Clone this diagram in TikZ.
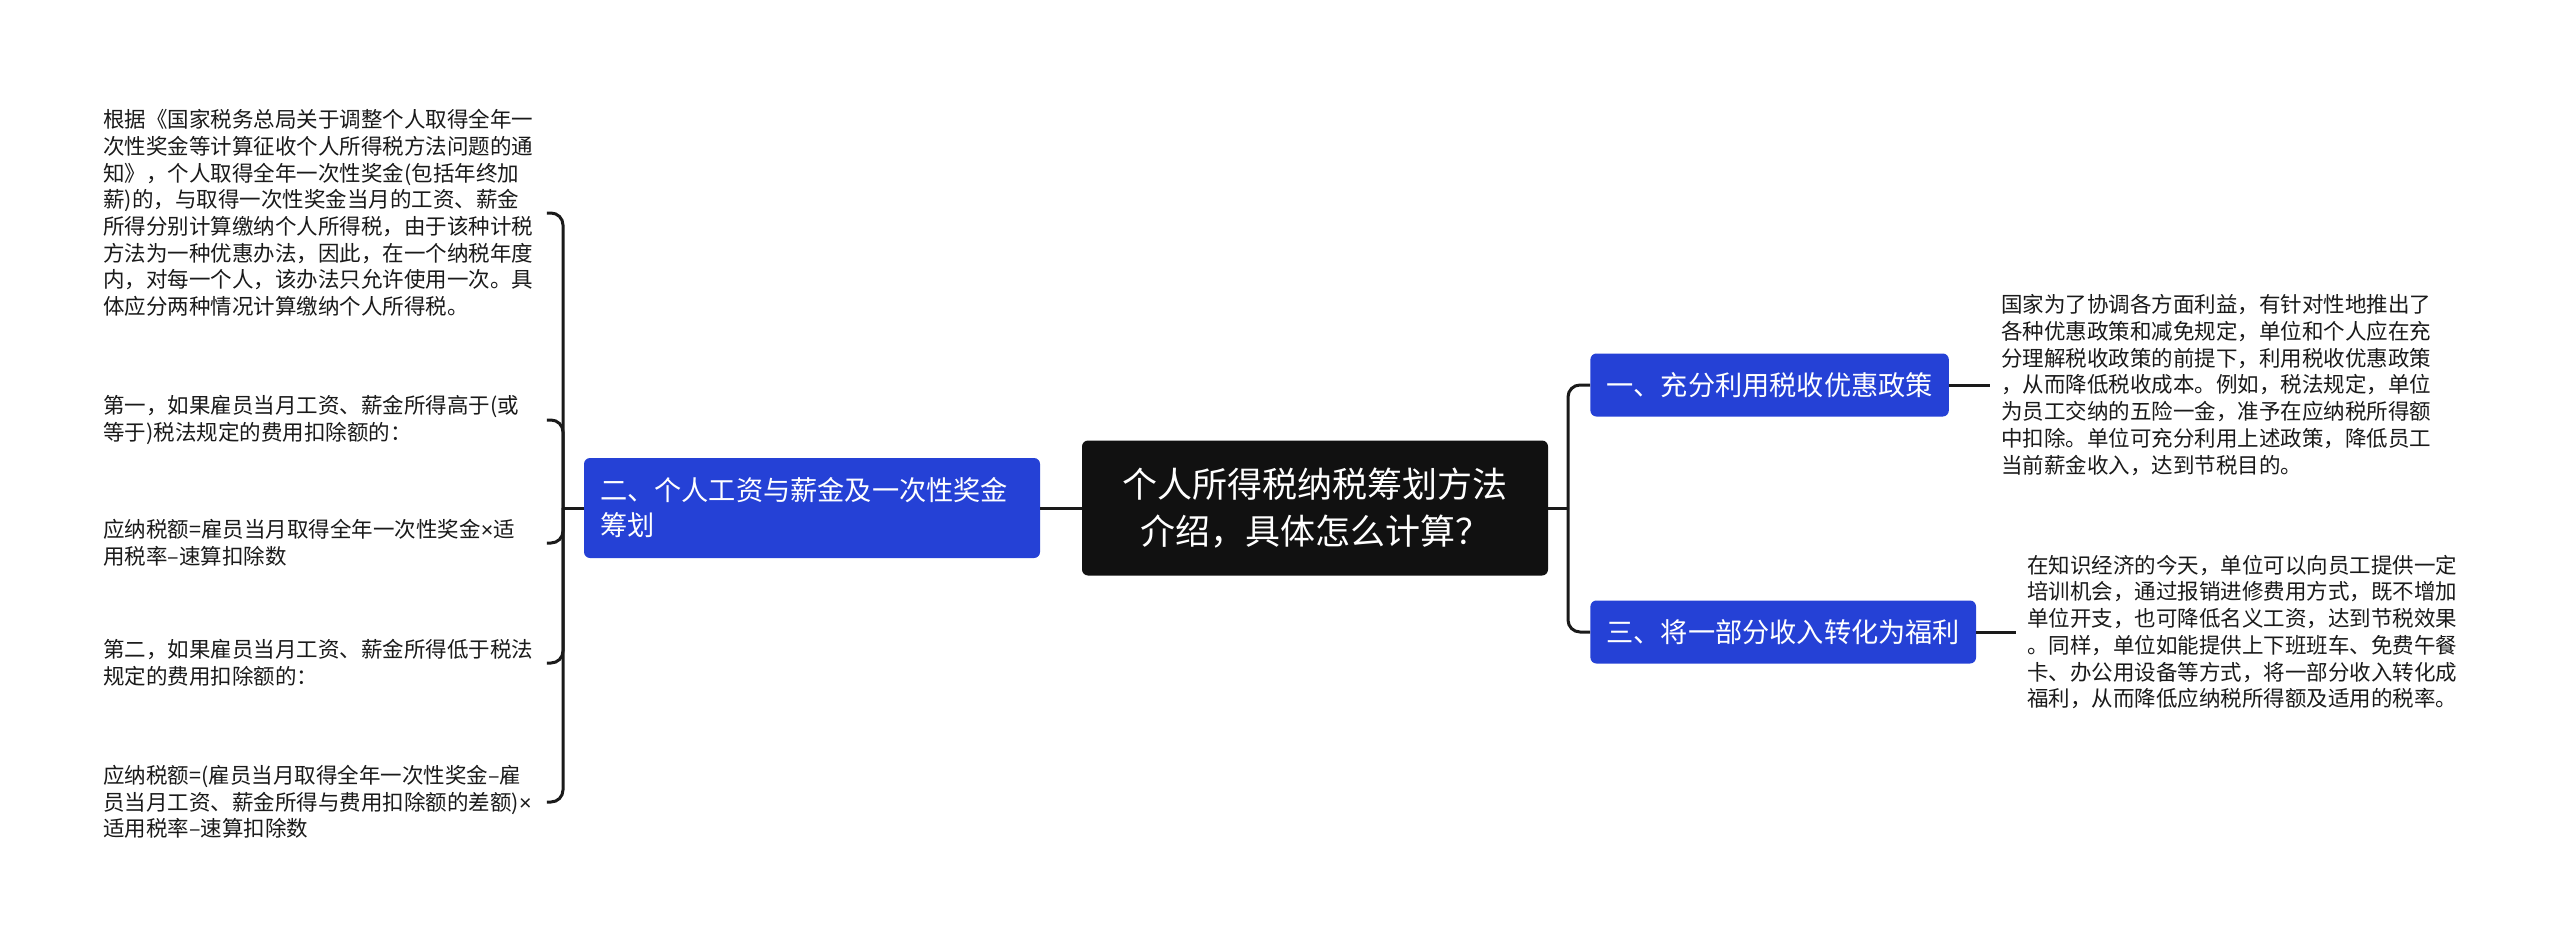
\documentclass[tikz,border=0pt]{standalone}
\usepackage{fontspec}
\setmainfont{Noto Sans CJK SC}
\newfontfamily\latinfont{Liberation Sans}
\newcommand\tms{{\latinfont ×}}
\definecolor{topicblue}{HTML}{2541D6}
\definecolor{rootblack}{HTML}{111111}
\definecolor{linegray}{HTML}{1A1A1A}

\begin{document}
\begin{tikzpicture}[x=.5pt,y=-.5pt,
    conn/.style={draw=linegray,line width=1.5pt,rounded corners=6pt},
    note/.style={font=\fontsize{10.75pt}{13.35pt}\selectfont,text=linegray,text width=216pt,align=left,inner xsep=5.5pt,inner ysep=0pt,anchor=west},
    topic/.style={fill=topicblue,text=white,rounded corners=3pt,font=\fontsize{13.6pt}{17.5pt}\selectfont,inner xsep=8pt,minimum height=31.5pt},
    root/.style={fill=rootblack,text=white,rounded corners=3pt,font=\fontsize{17.5pt}{23.5pt}\selectfont,text width=200pt,align=center,inner xsep=16.5pt,minimum height=67.5pt}]
    \fill[white](0,0)rectangle(2560,947);
    \useasboundingbox(0,0)rectangle(2560,947);
    \node[root](root)at(1315,508){个人所得税纳税筹划方法\\介绍，具体怎么计算？};
    \node[topic,text width=212pt,align=left,minimum height=50pt](two)at(812,508){二、个人工资与薪金及一次性奖金\\筹划};
    \node[topic,anchor=west](one)at(1590,385){一、充分利用税收优惠政策};
    \node[topic,anchor=west](three)at(1590,632){三、将一部分收入转化为福利};
    \node[note](a1)at(92,213){根据《国家税务总局关于调整个人取得全年一\\次性奖金等计算征收个人所得税方法问题的通\\知》，个人取得全年一次性奖金(包括年终加\\薪)的，与取得一次性奖金当月的工资、薪金\\所得分别计算缴纳个人所得税，由于该种计税\\方法为一种优惠办法，因此，在一个纳税年度\\内，对每一个人，该办法只允许使用一次。具\\体应分两种情况计算缴纳个人所得税。};
    \node[note](a2)at(92,420){第一，如果雇员当月工资、薪金所得高于(或\\等于)税法规定的费用扣除额的：};
    \node[note](a3)at(92,543){应纳税额=雇员当月取得全年一次性奖金\tms 适\\用税率–速算扣除数};
    \node[note](a4)at(92,663){第二，如果雇员当月工资、薪金所得低于税法\\规定的费用扣除额的：};
    \node[note](a5)at(92,802){应纳税额=(雇员当月取得全年一次性奖金–雇\\员当月工资、薪金所得与费用扣除额的差额)\tms\\适用税率–速算扣除数};
    \node[note](b1)at(1990,385){国家为了协调各方面利益，有针对性地推出了\\各种优惠政策和减免规定，单位和个人应在充\\分理解税收政策的前提下，利用税收优惠政策\\，从而降低税收成本。例如，税法规定，单位\\为员工交纳的五险一金，准予在应纳税所得额\\中扣除。单位可充分利用上述政策，降低员工\\当前薪金收入，达到节税目的。};
    \node[note](c1)at(2016,632){在知识经济的今天，单位可以向员工提供一定\\培训机会，通过报销进修费用方式，既不增加\\单位开支，也可降低名义工资，达到节税效果\\。同样，单位如能提供上下班班车、免费午餐\\卡、办公用设备等方式，将一部分收入转化成\\福利，从而降低应纳税所得额及适用的税率。};
    \coordinate(lj)at(563,508);
    \coordinate(rj)at(1568,508);
    \draw[conn](root.west)--(two.east);
    \draw[conn](two.west)--(lj);
    \foreach\n in{1,...,5}
    \draw[conn](lj)|-(a\n.east);
    \draw[conn](root.east)--(rj);
    \draw[conn](rj)|-(one.west);
    \draw[conn](rj)|-(three.west);
    \draw[conn](one.east)--(b1.west);
    \draw[conn](three.east)--(c1.west);
  \end{tikzpicture}
\end{document}
